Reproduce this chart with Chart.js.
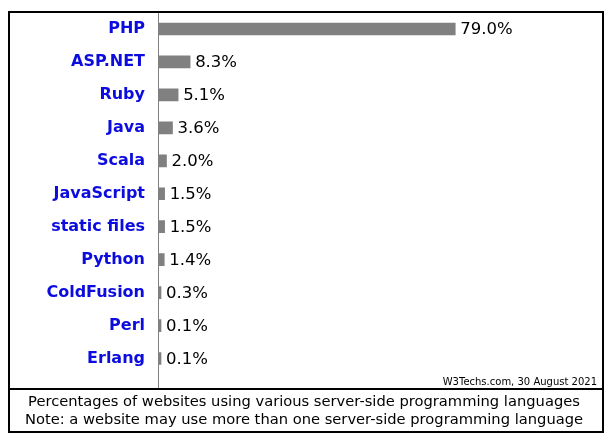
<!DOCTYPE html>
<html>
<head>
<meta charset="utf-8">
<script src="https://cdn.jsdelivr.net/npm/chart.js@4/dist/chart.umd.min.js"></script>
<style>
  html, body { margin: 0; padding: 0; background: #fff; }
  #wrap { width: 612px; height: 444px; position: relative; }
</style>
</head>
<body>
<div id="wrap"><canvas id="chartLinguagens"></canvas></div>
<script>
// --- Dados ---
const linguagens = ['PHP','ASP.NET','Ruby','Java','Scala','JavaScript','static files','Python','ColdFusion','Perl','Erlang'];
const percentuais = [79.0, 8.3, 5.1, 3.6, 2.0, 1.5, 1.5, 1.4, 0.3, 0.1, 0.1];
const rotulos = ['79.0%','8.3%','5.1%','3.6%','2.0%','1.5%','1.5%','1.4%','0.3%','0.1%','0.1%'];
const legendaLinhas = [
  'Percentages of websites using various server-side programming languages',
  'Note: a website may use more than one server-side programming language'
];
const fonteCredito = 'W3Techs.com, 30 August 2021';

const FONTE = '"DejaVu Sans", Verdana, sans-serif';

// moldura, eixo, valores e legenda de baixo
const molduraPlugin = {
  id: 'moldura',
  afterDraw(chart){
    const ctx = chart.ctx;
    const area = chart.chartArea;
    ctx.save();

    // linha do eixo (cinza)
    ctx.strokeStyle = '#808080';
    ctx.lineWidth = 1;
    ctx.beginPath();
    ctx.moveTo(area.left - 0.5, 12);
    ctx.lineTo(area.left - 0.5, 389);
    ctx.stroke();

    // valores ao lado das barras
    ctx.fillStyle = '#000';
    ctx.font = '16.5px ' + FONTE;
    ctx.textAlign = 'left';
    ctx.textBaseline = 'middle';
    chart.getDatasetMeta(0).data.forEach((bar, i) => {
      ctx.fillText(rotulos[i], bar.x + 5, bar.y + 1);
    });

    // credito
    ctx.font = '10px ' + FONTE;
    ctx.textAlign = 'right';
    ctx.fillText(fonteCredito, 597, 382);

    // moldura externa + separador
    ctx.strokeStyle = '#000';
    ctx.lineWidth = 2;
    ctx.strokeRect(9, 12, 594, 420);
    ctx.beginPath();
    ctx.moveTo(8, 389);
    ctx.lineTo(604, 389);
    ctx.stroke();

    // legenda
    ctx.font = '14.7px ' + FONTE;
    ctx.textAlign = 'center';
    legendaLinhas.forEach((t, i) => ctx.fillText(t, 304, 402 + i * 18));

    ctx.restore();
  }
};

new Chart(document.getElementById('chartLinguagens'), {
  type: 'bar',
  data: {
    labels: linguagens,
    datasets: [{
      data: percentuais,
      backgroundColor: '#808080',
      barThickness: 12,
      minBarLength: 2
    }]
  },
  options: {
    indexAxis: 'y',
    responsive: true, maintainAspectRatio: false,
    animation: false,
    layout: { padding: { left: 8, top: 12.5, right: 78, bottom: 69 } },
    plugins: { legend: { display: false }, tooltip: { enabled: false } },
    scales: {
      x: { display: false, min: 0, max: 100 },
      y: {
        grid: { display: false, drawTicks: false },
        border: { display: false },
        ticks: { color: '#0c0cdf', padding: 14, font: { family: FONTE, size: 16, weight: 'bold' } },
        // largura fixa e sem folga vertical extra dos rotulos
        afterFit: s => { s.width = 151; s.paddingTop = 0; s.paddingBottom = 0; }
      }
    }
  },
  plugins: [molduraPlugin]
});
</script>
</body>
</html>
